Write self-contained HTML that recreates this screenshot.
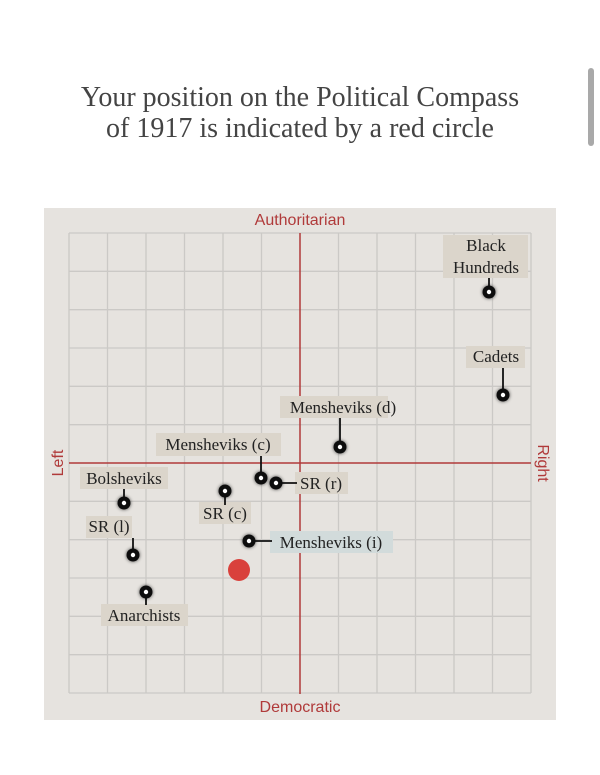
<!DOCTYPE html>
<html><head><meta charset="utf-8"><style>
html,body{margin:0;padding:0;background:#fff;width:600px;height:775px;overflow:hidden}
</style></head><body>
<svg width="600" height="775" viewBox="0 0 600 775" xmlns="http://www.w3.org/2000/svg">
<defs>
<filter id="sh" x="-1" y="-1" width="3" height="3"><feGaussianBlur in="SourceAlpha" stdDeviation="1.8"/><feComponentTransfer><feFuncA type="linear" slope="0.7"/></feComponentTransfer><feMerge><feMergeNode/><feMergeNode in="SourceGraphic"/></feMerge></filter>
</defs>
<rect x="588" y="68" width="6" height="78" rx="3" fill="#a9a9a9"/>
<g font-family="Liberation Serif, serif" font-size="28" fill="#444" text-anchor="middle">
<text x="300" y="106">Your position on the Political Compass</text>
<text x="300" y="137">of 1917 is indicated by a red circle</text>
</g>
<rect x="44" y="208" width="512" height="512" fill="#e6e3df"/>
<g stroke="#cbc9c6" stroke-width="1.3" fill="none">
<path d="M69 233V693M107.5 233V693M146 233V693M184.5 233V693M223 233V693M261.5 233V693M338.5 233V693M377 233V693M415.5 233V693M454 233V693M492.5 233V693M531 233V693"/>
<path d="M69 233H531M69 271.3H531M69 309.7H531M69 348H531M69 386.3H531M69 424.7H531M69 501.3H531M69 539.7H531M69 578H531M69 616.3H531M69 654.7H531M69 693H531"/>
</g>
<g stroke="#b03a3a" stroke-width="1.5">
<line x1="300" y1="233" x2="300" y2="694"/>
<line x1="69" y1="463" x2="531" y2="463"/>
</g>
<g font-family="Liberation Sans, sans-serif" font-size="16" fill="#b03a3a" text-anchor="middle">
<text x="300" y="225">Authoritarian</text>
<text x="300" y="712">Democratic</text>
<text transform="translate(63,463) rotate(-90)">Left</text>
<text transform="translate(538,463) rotate(90)">Right</text>
</g>
<g fill="#dbd5cb">
<rect x="443" y="235" width="85" height="43"/>
<rect x="466" y="346" width="59" height="22"/>
<rect x="280" y="396" width="108" height="22"/>
<rect x="156" y="433" width="125" height="23"/>
<rect x="295" y="472" width="53" height="22"/>
<rect x="80" y="467" width="88" height="22"/>
<rect x="199" y="502" width="52" height="22"/>
<rect x="86" y="516" width="46" height="22"/>
<rect x="101" y="604" width="87" height="22"/>
<rect x="270" y="531" width="123" height="22" fill="#d2dbdb"/>
</g>
<g stroke="#111" stroke-width="1.8">
<line x1="489" y1="278" x2="489" y2="292"/>
<line x1="503" y1="368" x2="503" y2="395"/>
<line x1="340" y1="418" x2="340" y2="447"/>
<line x1="261" y1="456" x2="261" y2="478"/>
<line x1="276" y1="483" x2="297" y2="483"/>
<line x1="124" y1="489" x2="124" y2="503"/>
<line x1="225" y1="491" x2="225" y2="505"/>
<line x1="133" y1="538" x2="133" y2="555"/>
<line x1="249" y1="541" x2="272" y2="541"/>
<line x1="146" y1="592" x2="146" y2="605"/>
</g>
<g font-family="Liberation Serif, serif" font-size="17" fill="#222" text-anchor="middle">
<text x="486" y="251">Black</text>
<text x="486" y="273">Hundreds</text>
<text x="496" y="362">Cadets</text>
<text x="343" y="413">Mensheviks (d)</text>
<text x="218" y="450">Mensheviks (c)</text>
<text x="321" y="489">SR (r)</text>
<text x="124" y="484">Bolsheviks</text>
<text x="225" y="519">SR (c)</text>
<text x="109" y="532">SR (l)</text>
<text x="331" y="548">Mensheviks (i)</text>
<text x="144" y="621">Anarchists</text>
</g>
<g filter="url(#sh)">
<g fill="#111">
<circle cx="489" cy="292" r="6.5"/><circle cx="503" cy="395" r="6.5"/><circle cx="340" cy="447" r="6.5"/>
<circle cx="261" cy="478" r="6.5"/><circle cx="276" cy="483" r="6.5"/><circle cx="225" cy="491" r="6.5"/>
<circle cx="124" cy="503" r="6.5"/><circle cx="133" cy="555" r="6.5"/><circle cx="249" cy="541" r="6.5"/>
<circle cx="146" cy="592" r="6.5"/>
</g>
</g>
<g fill="#fff">
<circle cx="489" cy="292" r="2.2"/><circle cx="503" cy="395" r="2.2"/><circle cx="340" cy="447" r="2.2"/>
<circle cx="261" cy="478" r="2.2"/><circle cx="276" cy="483" r="2.2"/><circle cx="225" cy="491" r="2.2"/>
<circle cx="124" cy="503" r="2.2"/><circle cx="133" cy="555" r="2.2"/><circle cx="249" cy="541" r="2.2"/>
<circle cx="146" cy="592" r="2.2"/>
</g>
<circle cx="239" cy="570" r="11" fill="#d9413c"/>
</svg>
</body></html>
